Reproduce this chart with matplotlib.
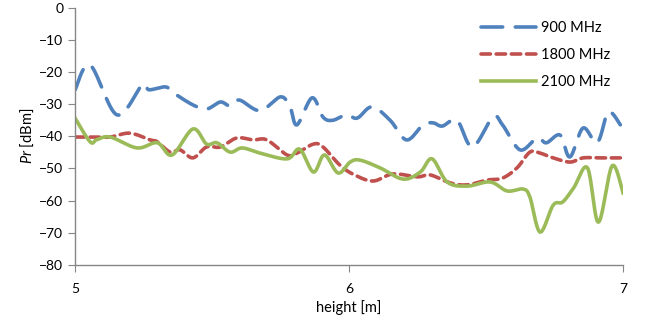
import numpy as np
import matplotlib
matplotlib.use("Agg")
import matplotlib.pyplot as plt

plt.rcParams['font.family'] = ['Lato', 'DejaVu Sans']
plt.rcParams['mathtext.fontset'] = 'custom'
plt.rcParams['mathtext.it'] = 'Lato:italic'

# values
h900 = [5.0, 5.055, 5.153, 5.245, 5.27, 5.33, 5.36, 5.43, 5.48, 5.53, 5.565, 5.60,
        5.675, 5.75, 5.785, 5.81, 5.865, 5.905, 5.94, 5.99, 6.03, 6.084, 6.15,
        6.21, 6.27, 6.307, 6.34, 6.394, 6.45, 6.525, 6.56, 6.624, 6.686, 6.72,
        6.77, 6.806, 6.854, 6.905, 6.94, 6.96, 6.99]
p900 = [-25.5, -17.8, -33.3, -24.0, -25.5, -24.6, -26.5, -30.2, -31.5, -29.3, -30.5, -28.7,
        -32.0, -27.7, -31.0, -36.4, -28.0, -34.0, -35.0, -33.3, -34.3, -30.8, -35.0,
        -41.1, -36.4, -35.8, -36.8, -35.0, -43.3, -34.0, -36.4, -44.2, -40.5, -42.0,
        -39.6, -46.4, -37.4, -42.0, -33.3, -32.8, -36.4]

h1800 = [5.0, 5.065, 5.128, 5.2, 5.274, 5.30, 5.347, 5.383, 5.43, 5.48, 5.53, 5.59,
         5.65, 5.70, 5.774, 5.81, 5.87, 5.905, 5.967, 6.02, 6.088, 6.16, 6.25,
         6.296, 6.37, 6.43, 6.504, 6.56, 6.613, 6.66, 6.697, 6.745, 6.806, 6.854,
         6.917, 6.99]
p1800 = [-40.2, -40.2, -40.2, -39.0, -41.1, -41.7, -44.9, -44.2, -46.7, -43.3, -43.3, -40.5,
         -41.1, -41.1, -45.8, -45.2, -42.4, -43.3, -49.0, -52.0, -53.9, -51.7, -52.6,
         -52.0, -54.5, -55.1, -53.6, -53.0, -49.8, -44.9, -45.2, -46.7, -48.0, -46.7,
         -46.7, -46.7]

h2100 = [5.0, 5.055, 5.08, 5.128, 5.226, 5.30, 5.354, 5.43, 5.48, 5.518, 5.566, 5.61,
         5.675, 5.774, 5.82, 5.87, 5.91, 5.96, 6.004, 6.04, 6.113, 6.197, 6.26,
         6.303, 6.358, 6.43, 6.515, 6.577, 6.635, 6.66, 6.697, 6.745, 6.78, 6.82,
         6.87, 6.91, 6.96, 7.0]
p2100 = [-34.3, -41.7, -41.0, -40.2, -43.6, -42.0, -45.8, -37.7, -42.4, -42.0, -44.9, -43.6,
         -45.2, -47.0, -44.0, -51.1, -45.8, -51.4, -48.0, -47.4, -49.8, -53.3, -51.1,
         -47.0, -54.2, -55.5, -54.2, -57.0, -56.4, -58.9, -69.8, -61.4, -60.4, -56.0,
         -49.8, -66.7, -49.2, -57.6]


def smooth(x, y, n=20):
    # Catmull-Rom curve through the points, like Excel's smoothed line
    x = np.asarray(x, float)
    y = np.asarray(y, float)
    px = np.concatenate([[x[0]], x, [x[-1]]])
    py = np.concatenate([[y[0]], y, [y[-1]]])
    xs, ys = [], []
    t = np.linspace(0, 1, n, endpoint=False)
    for i in range(1, len(px) - 2):
        for arr, out in ((px, xs), (py, ys)):
            p0, p1, p2, p3 = arr[i - 1], arr[i], arr[i + 1], arr[i + 2]
            out.extend(0.5 * (2 * p1 + (-p0 + p2) * t + (2 * p0 - 5 * p1 + 4 * p2 - p3) * t ** 2
                              + (-p0 + 3 * p1 - 3 * p2 + p3) * t ** 3))
    xs.append(x[-1])
    ys.append(y[-1])
    return xs, ys


fig = plt.figure(figsize=(6.47, 3.29), dpi=100)
ax = fig.add_axes([0.116, 0.195, 0.847, 0.781])

x, y = smooth(h900, p900)
ax.plot(x, y, color='#4F81BD', lw=2.6, dashes=(6, 3.5), label='900 MHz', solid_capstyle='round', dash_capstyle='round')
x, y = smooth(h1800, p1800)
ax.plot(x, y, color='#C0504D', lw=2.6, dashes=(2.6, 1.6), label='1800 MHz', dash_capstyle='round')
x, y = smooth(h2100, p2100)
ax.plot(x, y, color='#9BBB59', lw=2.6, label='2100 MHz')

ax.set_xlim(5, 7)
ax.set_ylim(-80, 0)
ax.set_xticks([5, 6, 7])
ax.set_yticks(range(-80, 1, 10))
for s in ['top', 'right']:
    ax.spines[s].set_visible(False)
for s in ['left', 'bottom']:
    ax.spines[s].set_color('#868686')
    ax.spines[s].set_linewidth(1.0)
ax.tick_params(colors='#868686', labelcolor='black', labelsize=10, length=5, direction='out')
ax.tick_params(axis='x', pad=8)
ax.set_xlabel('height [m]', fontsize=10.5, labelpad=4)
ax.set_ylabel(r'$Pr$ [dBm]', fontsize=10.5, labelpad=2)

ax.legend(loc='upper right', bbox_to_anchor=(1.0, 1.0), frameon=False, fontsize=10.5,
          handlelength=3.8, labelspacing=0.9, handletextpad=0.3)

fig.savefig('out.png', dpi=100)
